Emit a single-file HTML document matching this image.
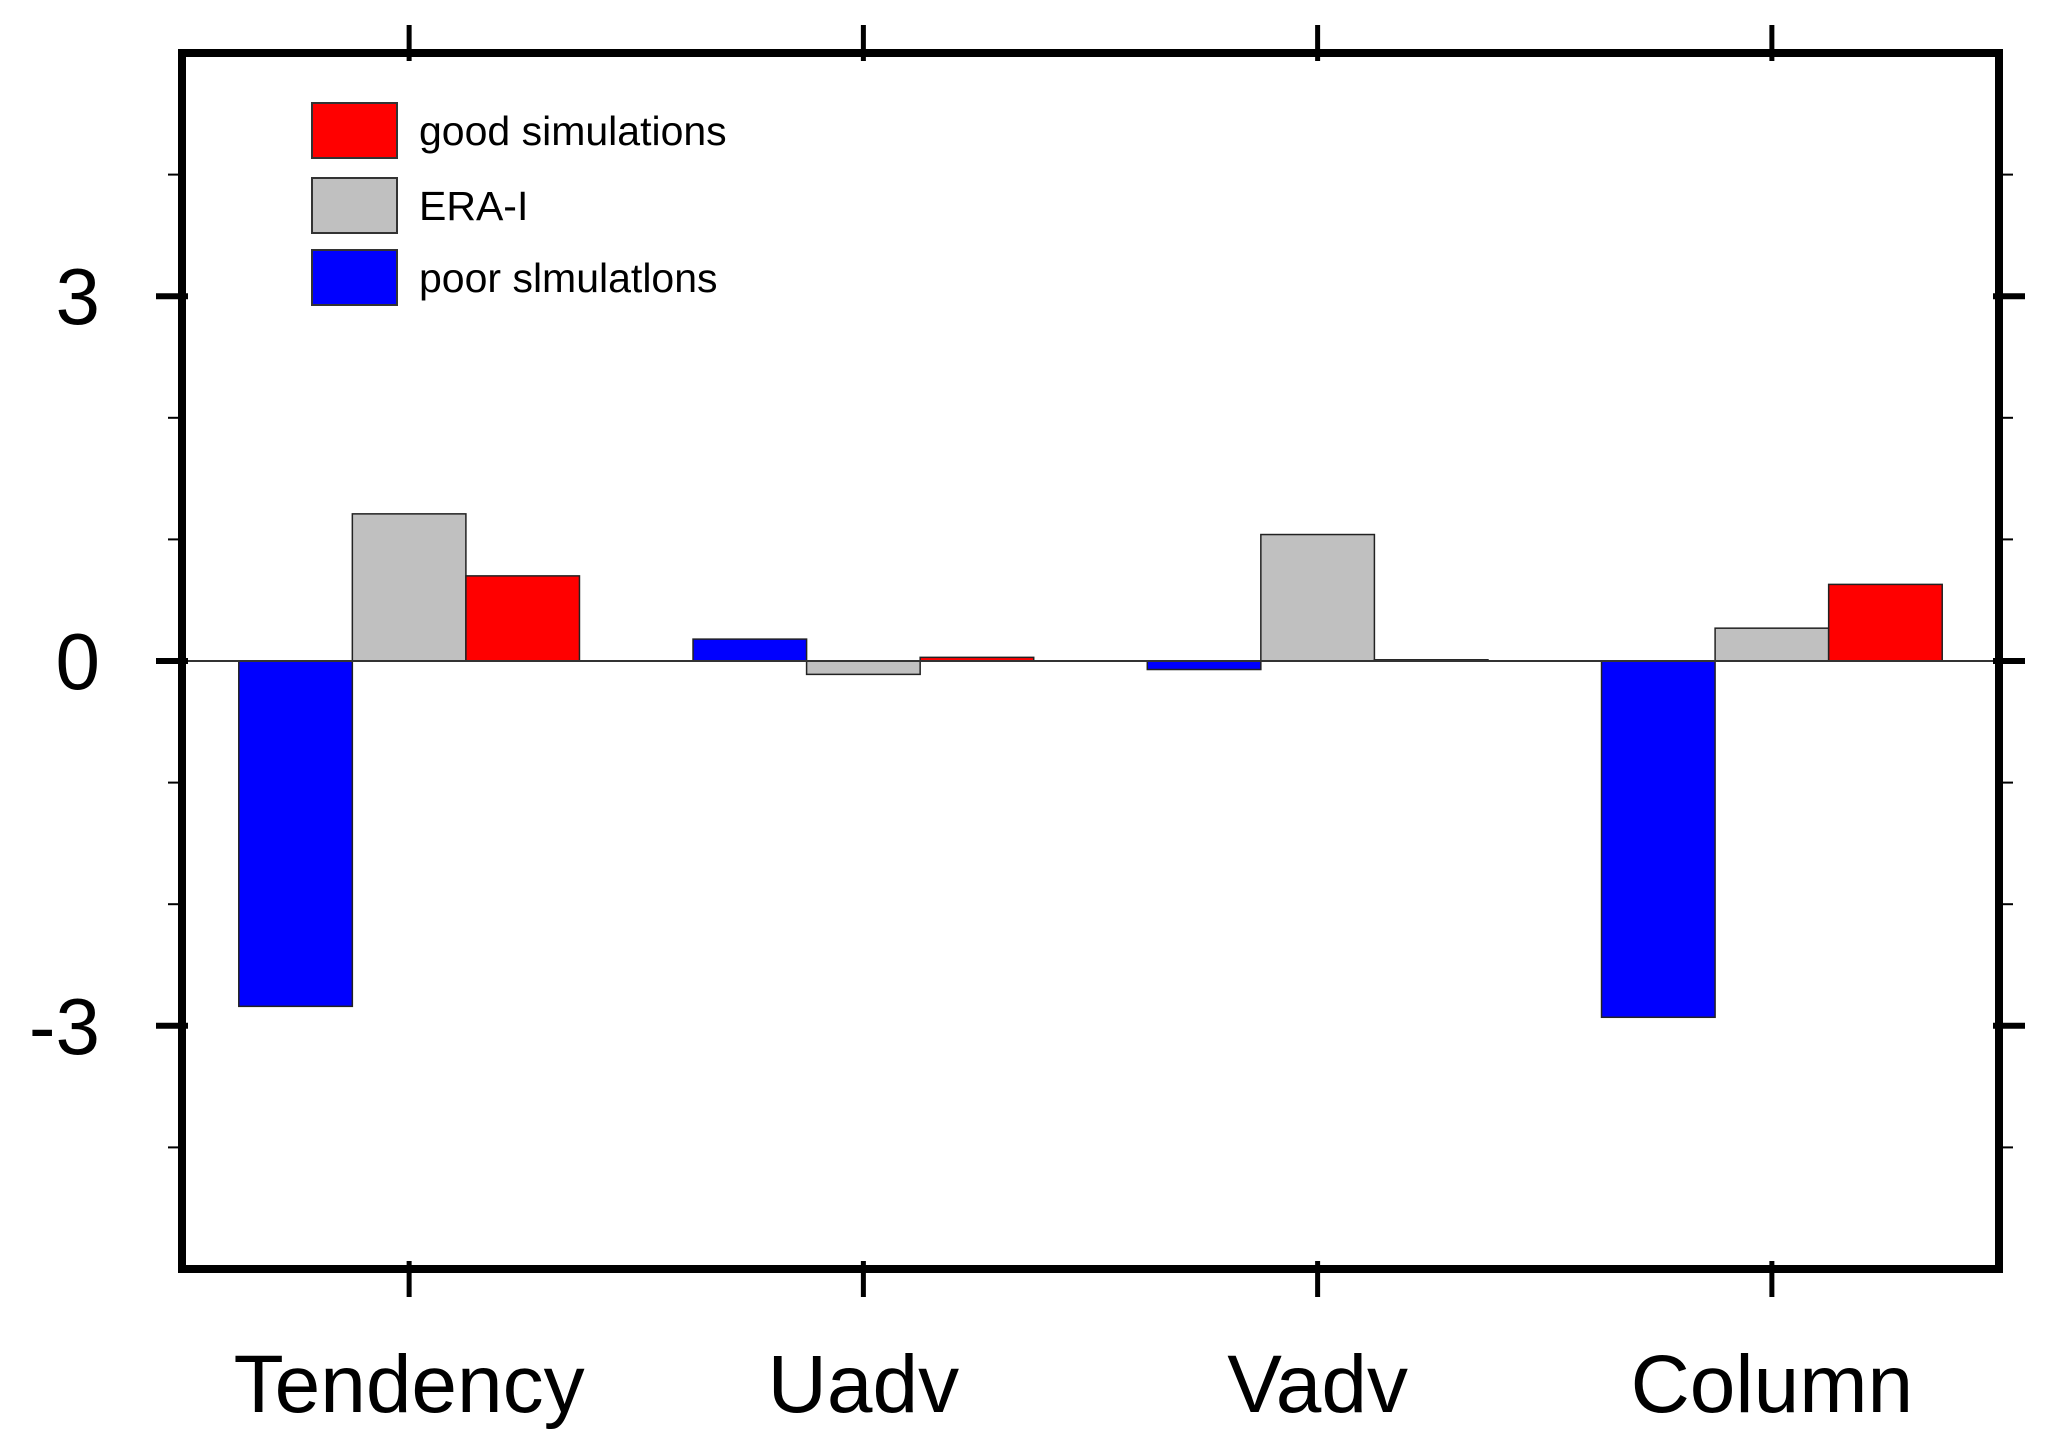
<!DOCTYPE html>
<html><head><meta charset="utf-8"><style>
html,body{margin:0;padding:0;background:#fff;}
svg{display:block;}
text{font-family:"Liberation Sans",Arial,sans-serif;fill:#000;}
</style></head><body>
<svg id="chart" width="2055" height="1448" viewBox="0 0 2055 1448" xmlns="http://www.w3.org/2000/svg"></svg>
<script>
const categories = ["Tendency","Uadv","Vadv","Column"];
const poorValues = [-2.84, 0.18, -0.07, -2.93];
const eraValues = [1.21, -0.11, 1.04, 0.27];
const goodValues = [0.70, 0.03, 0.01, 0.63];
const yMajorTicks = [-3, 0, 3];
const yMinorTicks = [-4, -2, -1, 1, 2, 4];

const L=182, R=1999, T=53, B=1269, yMin=-5, yMax=5;
const slot=(R-L)/categories.length, bw=slot*0.25;
const NS="http://www.w3.org/2000/svg";
const svg=document.getElementById('chart');
const y=v=>B-(v-yMin)/(yMax-yMin)*(B-T);
const xc=i=>L+slot*(i+0.5);
function mk(tag,attrs,parent){const e=document.createElementNS(NS,tag);for(const k in attrs)e.setAttribute(k,attrs[k]);(parent||svg).appendChild(e);return e;}

const series=[{name:"poor",vals:poorValues,color:"#0000ff",off:-1.5},{name:"era",vals:eraValues,color:"#c0c0c0",off:-0.5},{name:"good",vals:goodValues,color:"#ff0000",off:0.5}];
series.forEach(s=>{
  s.vals.forEach((v,i)=>{
    const y0=y(0), y1=y(v);
    const r=mk('rect',{x:xc(i)+s.off*bw,y:Math.min(y0,y1),width:bw,height:Math.max(Math.abs(y1-y0),1),fill:s.color,stroke:"#222","stroke-width":1.5});
    
    
  });
});
const zl=mk('line',{x1:L,x2:R,y1:y(0),y2:y(0),stroke:"#333","stroke-width":2});


const fr=mk('rect',{x:L,y:T,width:R-L,height:B-T,fill:"none",stroke:"#000","stroke-width":8});


yMajorTicks.forEach(v=>{
  const a=mk('line',{x1:L-26,x2:L+6,y1:y(v),y2:y(v),stroke:"#000","stroke-width":6});
  
  
  const b=mk('line',{x1:R-6,x2:R+26,y1:y(v),y2:y(v),stroke:"#000","stroke-width":6});
  
  
  const t=mk('text',{x:100,y:y(v)+28,"text-anchor":"end","font-size":80});
  t.textContent=String(v);
  
  
});
yMinorTicks.forEach(v=>{
  const a=mk('line',{x1:L-14,x2:L,y1:y(v),y2:y(v),stroke:"#000","stroke-width":2});
  
  
  const b=mk('line',{x1:R,x2:R+14,y1:y(v),y2:y(v),stroke:"#000","stroke-width":2});
  
  
});
categories.forEach((c,i)=>{
  const a=mk('line',{x1:xc(i),x2:xc(i),y1:T-28,y2:T+8,stroke:"#000","stroke-width":5});
  
  
  const b=mk('line',{x1:xc(i),x2:xc(i),y1:B-8,y2:B+28,stroke:"#000","stroke-width":5});
  
  
  const t=mk('text',{x:xc(i),y:1412,"text-anchor":"middle","font-size":82});
  t.textContent=c;
  
  
});
const legend=[["good simulations","#ff0000",103],["ERA-I","#c0c0c0",178],["poor slmulatlons","#0000ff",250]];
legend.forEach(([lab,col,ty])=>{
  const g=mk('g',{});
  
  
  mk('rect',{x:312,y:ty,width:85,height:55,fill:col,stroke:"#333","stroke-width":2},g);
  const t=mk('text',{x:419,y:ty+42,"font-size":41},g);
  t.textContent=lab;
});
</script>
</body></html>
